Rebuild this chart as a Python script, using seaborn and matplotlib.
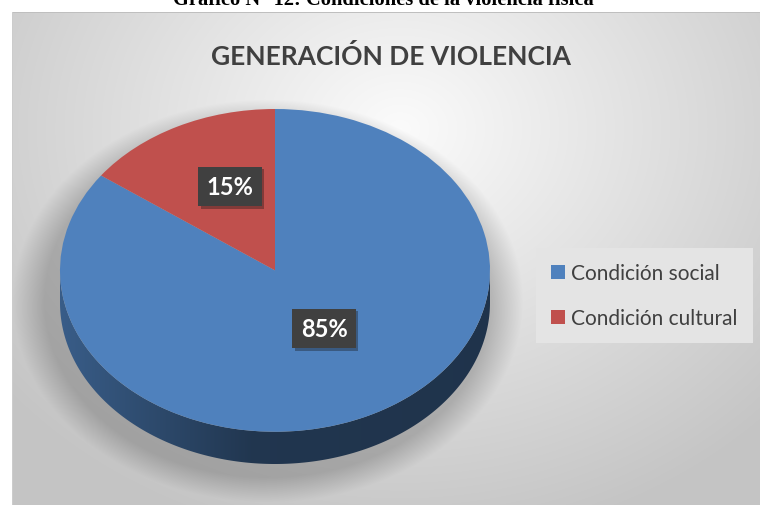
import numpy as np
import matplotlib
matplotlib.use("Agg")
import matplotlib.pyplot as plt
import seaborn as sns
from matplotlib.patches import Polygon
from matplotlib.colors import to_rgb
from matplotlib import patheffects as pe

# data
categories = ["Condición social", "Condición cultural"]
shares = [85, 15]
colors = ["#4F81BD", "#C0504D"]
title = "GENERACIÓN DE VIOLENCIA"
caption = "Gráfico N° 12: Condiciones de la violencia física"

sns.set_theme(style="white")
plt.rcParams["font.family"] = ["Lato", "DejaVu Sans"]

W, H = 760, 506
fig = plt.figure(figsize=(W / 100, H / 100), dpi=100)

# chart area: light radial gradient with a soft shadow under the pie
bg = fig.add_axes([0, 0, 1, 1])
bg.set_xlim(0, W)
bg.set_ylim(H, 0)
bg.axis("off")
yy, xx = np.mgrid[0:H, 0:W] + 0.5
r = np.hypot((xx - 400) / 520, (yy - 130) / 430)
light = np.clip(0.985 - 0.22 * r, 0.77, 1)
sr = np.hypot((xx - 268) / 228, (yy - 302) / 180)
shade = 0.2 * np.clip((1.12 - sr) / 0.14, 0, 1)
val = light * (1 - shade)
img = np.dstack([val] * 3)
img[:, :12] = 1
img[:13, :] = 1
img[13, 12:] = 0.75
img[13:, 12] = 0.8
bg.imshow(img, extent=[0, W, H, 0], interpolation="bilinear", aspect="auto")

bg.text(383, 5, caption, ha="center", va="baseline", family=["Liberation Serif"],
        fontsize=14.8, fontweight="bold", color="black")
bg.text(391, 56, title, ha="center", va="center", fontsize=19,
        fontweight="bold", color="#404040")

# pie: top face from ax.pie, the side band below it
depth = 0.2
ax = fig.add_axes([60 / W, 1 - 465 / H, 430 / W, 355 / H])
wedges, _ = ax.pie(shares, colors=colors, startangle=90, counterclock=False,
                   radius=1, wedgeprops=dict(linewidth=0))

for w, c in zip(wedges, colors):
    t = np.radians(np.linspace(w.theta1, w.theta2, 600))
    t = t[np.sin(t) < 0]
    if len(t) == 0:
        continue
    top = np.column_stack([np.cos(t), np.sin(t)])
    bot = np.column_stack([np.cos(t), np.sin(t) - depth])
    band = Polygon(np.vstack([top, bot[::-1]]), closed=True, fc="none", ec="none")
    ax.add_patch(band)
    xs = np.linspace(-1, 1, 256)
    fac = np.interp(xs, [-1, -0.1, 1], [0.72, 0.42, 0.4])
    grad = fac[:, None] * np.array(to_rgb(c))
    im = ax.imshow(grad[None], extent=[-1, 1, -1 - depth, 0], aspect="auto", zorder=0.5)
    im.set_clip_path(band)

ax.set_aspect("auto")
ax.set_xlim(-1, 1)
ax.set_ylim(-1 - depth, 1)
ax.axis("off")

label_xy = [(0.228, -0.36), (-0.21, 0.52)]
for (x, y), s in zip(label_xy, shares):
    t = ax.text(x, y, f"{s}%", ha="center", va="center", color="white",
                fontsize=17, fontweight="bold", zorder=5,
                bbox=dict(boxstyle="square,pad=0.35", fc="#404040", ec="none"))
    t.get_bbox_patch().set_path_effects(
        [pe.SimplePatchShadow(offset=(2, -2), alpha=0.35), pe.Normal()])

leg = ax.legend(wedges, categories, loc="upper left",
                bbox_to_anchor=(536 / W, 1 - 249 / H), bbox_transform=fig.transFigure,
                frameon=True, fancybox=False, facecolor="#E4E4E4", edgecolor="none",
                framealpha=1, fontsize=15, handlelength=0.67, handleheight=0.67,
                handletextpad=0.3, labelspacing=1.2, borderpad=0.72, borderaxespad=0)
for txt in leg.get_texts():
    txt.set_color("#404040")

fig.savefig("out.png", dpi=100)
